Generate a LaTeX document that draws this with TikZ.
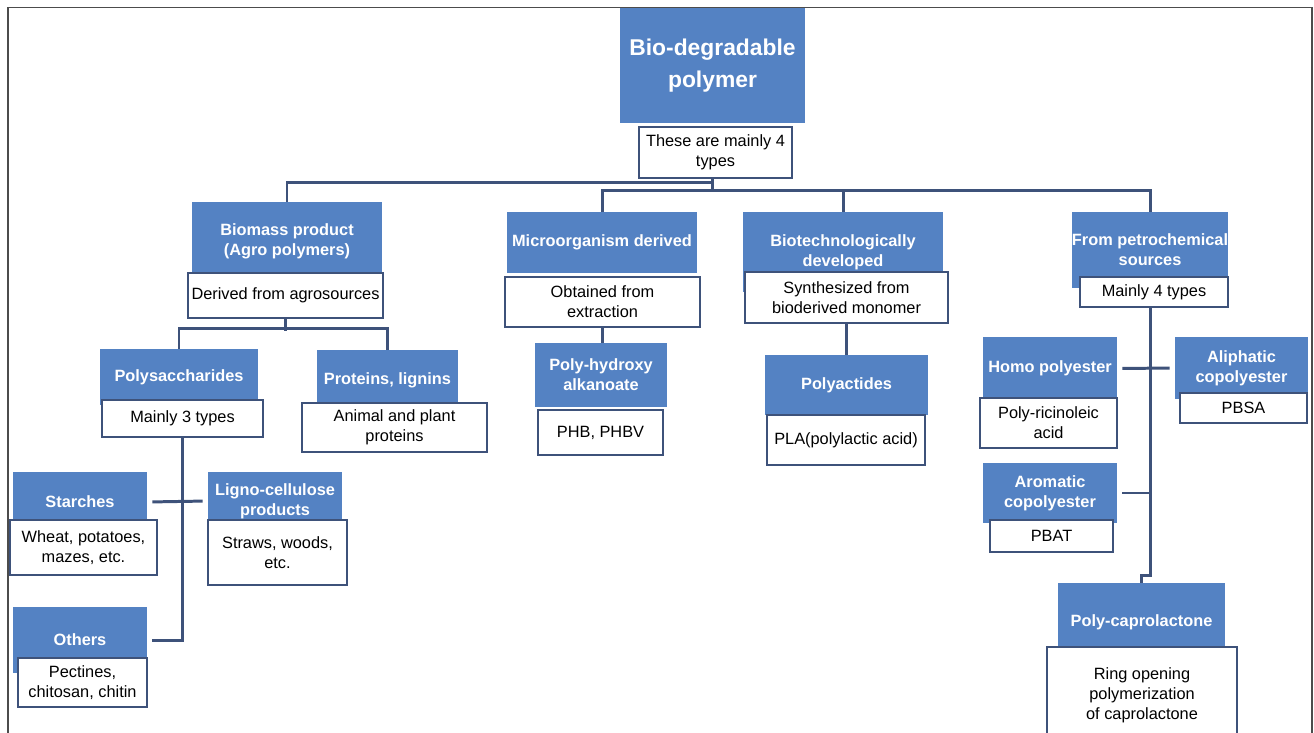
\documentclass[tikz,border=0pt]{standalone}
\usepackage{fontspec}
\setmainfont{Liberation Sans}

\definecolor{boxblue}{RGB}{84,130,195}
\definecolor{linegray}{RGB}{62,82,122}

\begin{document}
\begin{tikzpicture}[x=0.02cm,y=-0.02cm]

\tikzset{head/.style = {fill=boxblue, text=white, font=\fontsize{9.3}{11.5}\selectfont\bfseries, align=center, inner sep=0pt}}
\tikzset{note/.style = {draw=linegray, line width=1.1pt, fill=white, font=\fontsize{9.3}{11.5}\selectfont, align=center, inner sep=0pt}}
\tikzset{wh/.style 2 args = {minimum width=#1*0.02cm, minimum height=#2*0.02cm}}
\tikzset{link/.style = {draw=linegray, line width=1.7pt}}
\tikzset{gap/.style = {shorten <=0.1cm, shorten >=0.1cm}}

\clip (0,0) rectangle (1314,733);
\draw[line width=0.8pt, draw=black!70] (8,760) -- (8,7.5) -- (1312,7.5) -- (1312,760);

%boxes
\node[head, wh={185}{115}, font=\fontsize{13}{18}\selectfont\bfseries] (root) at (712.5,65.5) {Bio-degradable\\polymer};
\node[note, wh={153}{51}] (rootnote) at (715.5,152.5) {These are mainly 4\\types};

\node[head, wh={190}{78}] (biomass) at (287,241) {Biomass product\\(Agro polymers)};
\node[note, wh={195}{45}] (biomassnote) at (285.5,295.5) {Derived from agrosources};
\node[head, wh={190}{61}] (micro) at (602,242.5) {Microorganism derived};
\node[note, wh={195}{50}] (micronote) at (602.5,302) {Obtained from\\extraction};
\node[head, wh={200}{80}] (biotech) at (843,252) {Biotechnologically\\developed};
\node[note, wh={203}{51}] (biotechnote) at (846.5,297.5) {Synthesized from\\bioderived monomer};
\node[head, wh={156}{76}] (petro) at (1150,250) {From petrochemical\\sources};
\node[note, wh={148}{30}] (petronote) at (1154,292) {Mainly 4 types};

\node[head, wh={158}{56}] (polysac) at (179,377) {Polysaccharides};
\node[note, wh={161}{37}] (polysacnote) at (182.5,418.5) {Mainly 3 types};
\node[head, wh={141}{60}] (proteins) at (387.5,380) {Proteins, lignins};
\node[note, wh={185}{49}] (proteinsnote) at (394.5,427.5) {Animal and plant\\proteins};
\node[head, wh={132}{64}] (phba) at (601,375) {Poly-hydroxy\\alkanoate};
\node[note, wh={125}{45}] (phbanote) at (600.5,432.5) {PHB, PHBV};
\node[head, wh={163}{60}] (polyact) at (846.5,385) {Polyactides};
\node[note, wh={158}{50}] (polyactnote) at (846,440) {PLA(polylactic acid)};

\node[head, wh={134}{63}] (homo) at (1050,368.5) {Homo polyester};
\node[note, wh={137}{50}] (homonote) at (1048.5,423) {Poly-ricinoleic\\acid};
\node[head, wh={133}{62}] (aliph) at (1241.5,368) {Aliphatic\\copolyester};
\node[note, wh={127}{30}] (aliphnote) at (1243.5,408) {PBSA};
\node[head, wh={134}{60}] (arom) at (1050,493) {Aromatic\\copolyester};
\node[note, wh={123}{32}] (aromnote) at (1051.5,536) {PBAT};
\node[head, wh={167}{78}] (pcl) at (1141.5,622) {Poly-caprolactone};
\node[note, wh={190}{96}] (pclnote) at (1142,695) {Ring opening\\polymerization\\of caprolactone};

\node[head, wh={134}{60}] (starch) at (80,502) {Starches};
\node[note, wh={147}{55}] (starchnote) at (83.5,547.5) {Wheat, potatoes,\\mazes, etc.};
\node[head, wh={134}{58}] (ligno) at (275,501) {Ligno-cellulose\\products};
\node[note, wh={139}{65}] (lignonote) at (277.5,552.5) {Straws, woods,\\etc.};
\node[head, wh={134}{66}] (others) at (80,640) {Others};
\node[note, wh={129}{49}] (othersnote) at (82.5,682.5) {Pectines,\\chitosan, chitin};

%lines
\draw[link] (root.south |- rootnote.south) -- ++(0,4) -| (biomass.north);
\draw[link] (root.south |- rootnote.south) -- ++(0,13);
\draw[link] (micro.north) -- ++(0,-21) -| (petro.north);
\draw[link] (biotech.north) -- ++(0,-21);

\draw[link] (biomassnote.south) -- ++(0,12);
\draw[link] (polysac.north) -- ++(0,-20) -| (proteins.north);
\draw[link, shorten >=0.1cm] (polysacnote.south) |- (others.east);
\draw[link, gap] (starch.east) -- (ligno.west);

\draw[link] (micronote.south) -- (micronote.south |- phba.north);
\draw[link] (biotechnote.south) -- (biotechnote.south |- polyact.north);

\draw[link] (petronote.south -| petro.north) -- ++(0,268) -| (pcl.north);
\draw[link, gap] (homo.east) -- (aliph.west);
\draw[link, shorten <=0.1cm] (arom.east) -- (arom.east -| petro.north);

\end{tikzpicture}
\end{document}
